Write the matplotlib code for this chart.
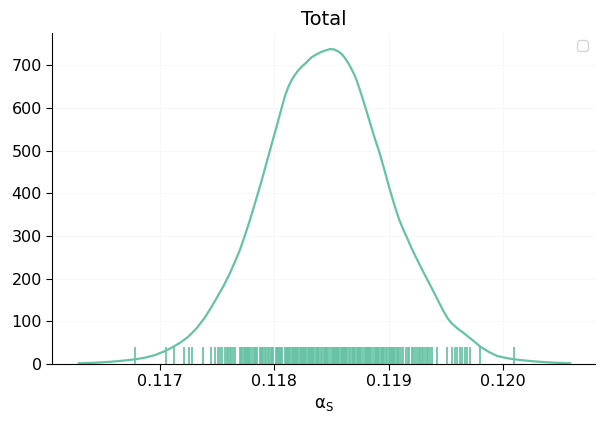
import matplotlib
matplotlib.use("Agg")
import matplotlib.pyplot as plt

# KDE curve
curve_x = [0.116286, 0.116430, 0.116577, 0.116680, 0.116780, 0.116870, 0.116955,
           0.117030, 0.117100, 0.117175, 0.117246, 0.117320, 0.117391, 0.117445,
           0.117495, 0.117555, 0.117609, 0.117655, 0.117696, 0.117740, 0.117784,
           0.117828, 0.117871, 0.117908, 0.117944, 0.117980, 0.118017, 0.118053,
           0.118089, 0.118120, 0.118148, 0.118178, 0.118206, 0.118240, 0.118278,
           0.118322, 0.118365, 0.118409, 0.118450, 0.118488, 0.118525, 0.118555,
           0.118578, 0.118600, 0.118625, 0.118651, 0.118675, 0.118700, 0.118722,
           0.118744, 0.118787, 0.118831, 0.118874, 0.118918, 0.118962, 0.119005,
           0.119049, 0.119093, 0.119130, 0.119166, 0.119200, 0.119238, 0.119275,
           0.119311, 0.119360, 0.119410, 0.119440, 0.119480, 0.119515, 0.119550,
           0.119600, 0.119660, 0.119730, 0.119805, 0.119880, 0.119951, 0.120050,
           0.120154, 0.120270, 0.120387, 0.120490, 0.120591]
curve_y = [1.6, 3.0, 5.4, 8.0, 11, 15, 21,
           29, 38, 50, 64, 84, 109, 132,
           155, 183, 212, 240, 266, 300, 336,
           375, 414, 449, 484, 519, 554, 590,
           625, 648, 664, 677, 687, 697, 706,
           718, 725, 731, 735, 738, 737, 733,
           729, 723, 714, 703, 691, 678, 663,
           646, 610, 571, 533, 497, 456, 414,
           374, 338, 314, 293, 272, 251, 231,
           212, 187, 161, 145, 124, 108, 96,
           84, 72, 57, 40.4, 28, 18.7, 13,
           9.3, 6.2, 4.0, 2.6, 1.6]

# rug sample positions
rug_left = [0.116780, 0.117051, 0.117120, 0.117208, 0.117255, 0.117281, 0.117377,
            0.117443, 0.117476, 0.117502, 0.117525, 0.117545, 0.117565, 0.117583,
            0.117595, 0.117609, 0.117624, 0.117639, 0.117653]
rug_dense = [
    0.11770, 0.11771, 0.11772, 0.11773, 0.11774, 0.11775, 0.11776, 0.11777,
    0.11778, 0.11779, 0.11780, 0.11782, 0.11783, 0.11784, 0.11785,
    0.11787, 0.11788, 0.11789, 0.11790, 0.11792, 0.11793, 0.11794,
    0.11795, 0.11797, 0.11798, 0.11799, 0.11801, 0.11802, 0.11803,
    0.11804, 0.11805, 0.11806, 0.11807, 0.11809, 0.11810, 0.11811, 0.11812,
    0.11813, 0.11814, 0.11815, 0.11816, 0.11817, 0.11818, 0.11819, 0.11820,
    0.11821, 0.11822, 0.11823, 0.11824, 0.11825, 0.11826, 0.11827, 0.11828,
    0.11829, 0.11830, 0.11831, 0.11832, 0.11833, 0.11834, 0.11835, 0.11836,
    0.11837, 0.11838, 0.11839, 0.11841, 0.11842, 0.11843, 0.11844,
    0.11845, 0.11846, 0.11847, 0.11849, 0.11850, 0.11851, 0.11852,
    0.11853, 0.11854, 0.11855, 0.11856, 0.11857, 0.11858, 0.11859, 0.11860,
    0.11861, 0.11862, 0.11863, 0.11864, 0.11865, 0.11866, 0.11868,
    0.11869, 0.11870, 0.11871, 0.11872, 0.11873, 0.11874, 0.11875, 0.11876,
    0.11878, 0.11879, 0.11880, 0.11881, 0.11882, 0.11883, 0.11884,
    0.11885, 0.11886, 0.11888, 0.11889, 0.11890, 0.11891, 0.11892,
    0.11893, 0.11894, 0.11895, 0.11896, 0.11898, 0.11899, 0.11900,
    0.11901, 0.11902, 0.11903, 0.11904, 0.11905, 0.11906, 0.11907, 0.11908]
rug_right = [0.119093, 0.119107, 0.119127, 0.119151, 0.119166, 0.119180, 0.119201,
             0.119215, 0.119229, 0.119247, 0.119262, 0.119276, 0.119291, 0.119305,
             0.119319, 0.119334, 0.119349, 0.119363, 0.119378, 0.119428, 0.119509,
             0.119558, 0.119581, 0.119602, 0.119622, 0.119646, 0.119666, 0.119689,
             0.119709, 0.119799, 0.120096]
rug_x = rug_left + rug_dense + rug_right

x_ticks = [0.117, 0.118, 0.119, 0.120]
x_tick_labels = ["0.117", "0.118", "0.119", "0.120"]
y_ticks = [0, 100, 200, 300, 400, 500, 600, 700]

color = "#66c2a5"

fig = plt.figure(figsize=(6.04, 4.21), dpi=100)
ax = fig.add_axes([0.0866, 0.1354, 0.8984, 0.7856])

ax.plot(curve_x, curve_y, color=color, lw=1.6, solid_joinstyle="round")
ax.vlines(rug_x, 0, 0.052, transform=ax.get_xaxis_transform(),
          color=color, lw=1.25)

ax.set_xlim(0.116055, 0.120807)
ax.set_ylim(0, 775)
ax.set_xticks(x_ticks)
ax.set_xticklabels(x_tick_labels)
ax.set_yticks(y_ticks)
ax.tick_params(labelsize=11.5, length=4)

ax.grid(True, color="#f8f8f8", lw=0.8)
ax.set_axisbelow(True)
for s in ("top", "right"):
    ax.spines[s].set_visible(False)

ax.set_title("Total", fontsize=14)
ax.set_xlabel(r"$\mathrm{\alpha_S}$", fontsize=12)
ax.legend(handles=[], loc="upper right")

fig.savefig("out.png", dpi=100)
